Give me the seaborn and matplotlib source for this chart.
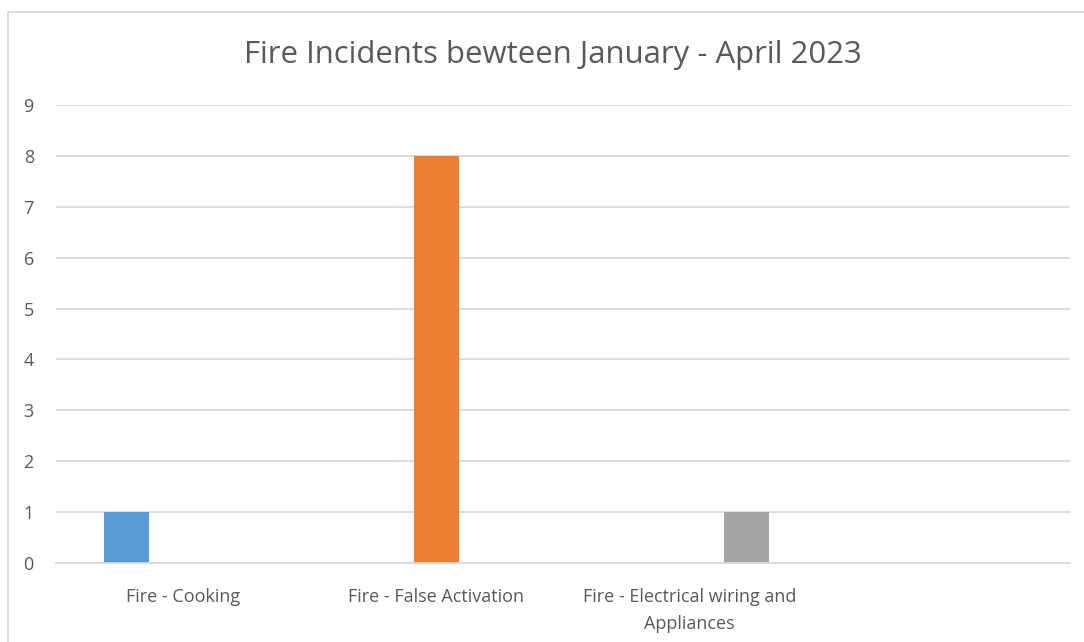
import matplotlib
matplotlib.use("Agg")
import matplotlib.pyplot as plt
import seaborn as sns
import pandas as pd
from matplotlib.patches import Rectangle

categories = ["Fire - Cooking", "Fire - False Activation", "Fire - Electrical wiring and Appliances"]
tick_labels = ["Fire - Cooking", "Fire - False Activation", "Fire - Electrical wiring and\nAppliances"]
values = [1, 8, 1]
colors = ["#5B9BD5", "#ED7D31", "#A5A5A5"]
title = "Fire Incidents bewteen January - April 2023"

df = pd.DataFrame({"category": categories, "series": categories, "value": values})

sns.set_theme(style="white")
plt.rcParams['font.family'] = ['Open Sans', 'DejaVu Sans']
text_color = "#595959"
grid_color = "#D9D9D9"

fig = plt.figure(figsize=(10.84, 6.42), dpi=100)
ax = fig.add_axes([56/1084, 79/642, (1070-56)/1084, (563-105)/642])

sns.barplot(data=df, x="category", y="value", hue="series", hue_order=categories,
            order=categories, palette=colors, dodge=True, width=0.669, gap=0.204,
            legend=False, ax=ax, saturation=1, linewidth=0)

ax.set_xlim(-0.5, 3.5)
ax.set_ylim(0, 9)
ax.set_yticks(range(0, 10))
ax.set_xticks(range(3))
ax.set_xticklabels(tick_labels)
ax.set_xlabel("")
ax.set_ylabel("")
ax.yaxis.grid(True, color=grid_color, linewidth=1.3)
ax.set_axisbelow(True)
for s in ["top", "right", "left"]:
    ax.spines[s].set_visible(False)
ax.spines["bottom"].set_color(grid_color)
ax.spines["bottom"].set_linewidth(1.3)
ax.tick_params(axis="both", length=0, colors=text_color, labelsize=13)
ax.tick_params(axis="y", pad=16)
ax.tick_params(axis="x", pad=18)
for lab in ax.get_xticklabels():
    lab.set_color(text_color)
    lab.set_linespacing(1.65)

fig.text(553/1084, 1 - 55/642, title, ha="center", va="center", fontsize=22.4, color=text_color)

fig.patches.append(Rectangle((8/1084, -0.1), 1.2, 1 - 12/642 + 0.1, transform=fig.transFigure,
                             fill=False, edgecolor=grid_color, linewidth=1.3, zorder=-1))

fig.savefig("out.png", dpi=100)
